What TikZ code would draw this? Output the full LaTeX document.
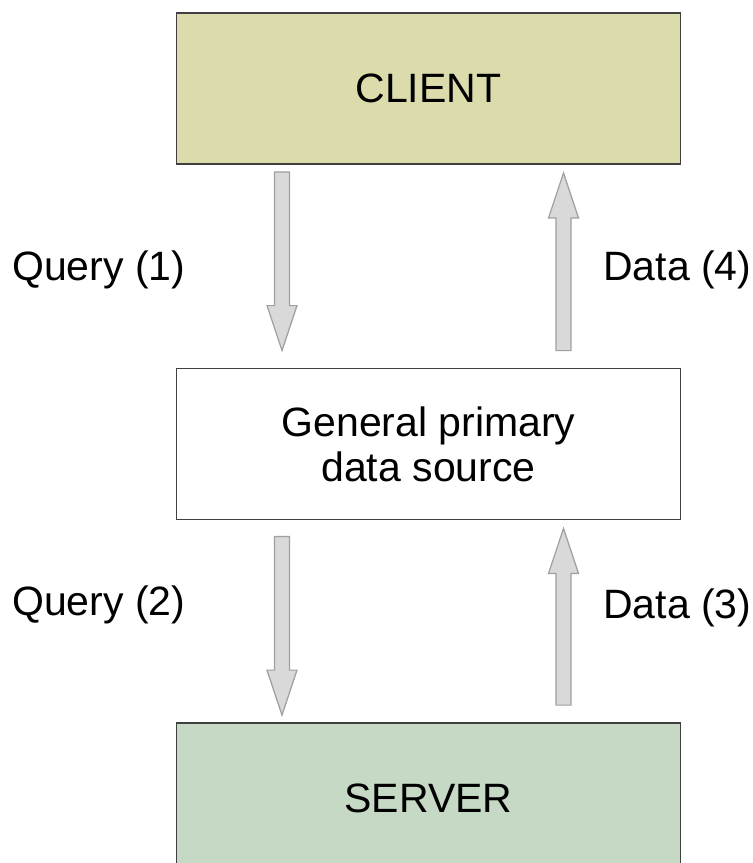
\documentclass[tikz,border=0pt]{standalone}
\usepackage{fontspec}
\setmainfont{Liberation Sans}
\usepackage{xcolor}
\usetikzlibrary{calc, positioning}

\definecolor{clientfill}{RGB}{219,219,171}
\definecolor{serverfill}{RGB}{198,217,197}
\definecolor{boxline}{RGB}{64,64,64}
\definecolor{arrowfill}{RGB}{217,217,217}
\definecolor{arrowline}{RGB}{160,160,160}

% block arrow from #1 (tail) to #2 (tip)
\newcommand{\blockarrow}[2]{%
  \draw[blockarrow] ($(#1)+(-7.5,0)$) -- ($($(#2)!45pt!(#1)$)+(-7.5,0)$)
    -- ($($(#2)!45pt!(#1)$)+(-15,0)$) -- (#2)
    -- ($($(#2)!45pt!(#1)$)+(15,0)$) -- ($($(#2)!45pt!(#1)$)+(7.5,0)$)
    -- ($(#1)+(7.5,0)$) -- cycle;}

\begin{document}
\begin{tikzpicture}[x=1pt, y=-1pt,
            % Tier boxes
            tier/.style={draw=boxline, line width=1.8pt,
                    minimum width=504pt, minimum height=151pt,
                    inner sep=0pt, align=center,
                    font=\fontsize{41}{45}\selectfont},
            % Block arrows
            blockarrow/.style={fill=arrowfill, draw=arrowline, line width=1.2pt,
                    line join=miter},
            % Flow labels
            flowlabel/.style={anchor=west, inner sep=0pt,
                    font=\fontsize{41}{45}\selectfont}
        ]
        \clip (0,0) rectangle (753,863);

        % Tiers
        \node[tier, fill=clientfill] (client) at (428.5, 88.5) {CLIENT};
        \node[tier, fill=white] (source) at (428.5, 444) {General primary\\data source};
        \node[tier, fill=serverfill] (server) at (428.5, 798.5) {SERVER};

        % Arrow ends
        \coordinate (q1s) at ($(client.south)+(-146.5,7)$);
        \coordinate (q1t) at ($(source.north)+(-146.5,-17)$);
        \coordinate (d4s) at ($(source.north)+(135,-17)$);
        \coordinate (d4t) at ($(client.south)+(135,8)$);
        \coordinate (q2s) at ($(source.south)+(-146.5,16)$);
        \coordinate (q2t) at ($(server.north)+(-146.5,-7)$);
        \coordinate (d3s) at ($(server.north)+(135,-17)$);
        \coordinate (d3t) at ($(source.south)+(135,8)$);

        % Arrows
        \blockarrow{q1s}{q1t}
        \blockarrow{d4s}{d4t}
        \blockarrow{q2s}{q2t}
        \blockarrow{d3s}{d3t}

        % Labels
        \node[flowlabel] (query1) at (12, 270) {Query (1)};
        \node[flowlabel] (data4) at (603, 270) {Data (4)};
        \node[flowlabel] (query2) at (12, 605) {Query (2)};
        \node[flowlabel] (data3) at (603, 608) {Data (3)};

    \end{tikzpicture}
\end{document}
